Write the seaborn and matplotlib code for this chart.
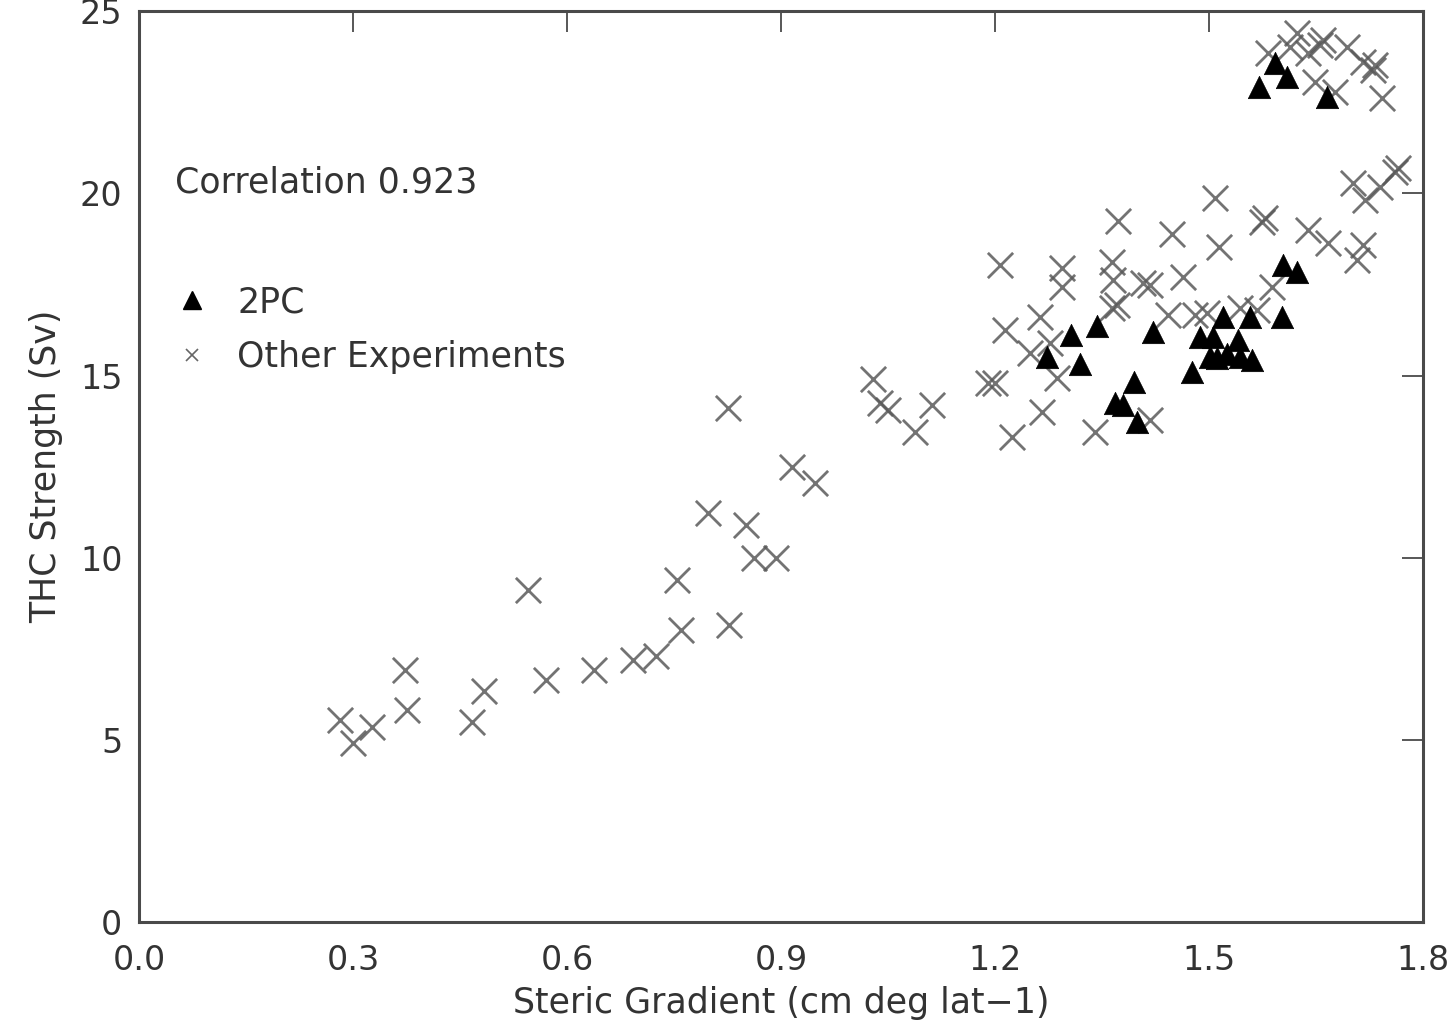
import matplotlib
matplotlib.use("Agg")
import matplotlib.pyplot as plt
from matplotlib.lines import Line2D
import seaborn as sns
import pandas as pd

# 2PC experiments (triangles)
pc_x = [1.273, 1.307, 1.319, 1.343, 1.368, 1.380, 1.395, 1.399, 1.422, 1.476,
        1.487, 1.501, 1.506, 1.511, 1.520, 1.525, 1.541, 1.543, 1.558, 1.560,
        1.602, 1.604, 1.623, 1.570, 1.593, 1.609, 1.666]
pc_y = [15.50, 16.11, 15.31, 16.36, 14.24, 14.19, 14.82, 13.72, 16.19, 15.09,
        16.05, 15.50, 16.05, 15.48, 16.60, 15.60, 15.97, 15.50, 16.60, 15.42,
        16.60, 18.03, 17.84, 22.91, 23.57, 23.19, 22.64]

# other experiments (crosses)
oth_x = [0.282, 0.300, 0.327, 0.373, 0.376, 0.467, 0.484, 0.545, 0.571, 0.638,
         0.693, 0.725, 0.760, 0.754, 0.827, 0.798, 0.826, 0.851, 0.862, 0.893,
         0.915, 0.948, 1.029, 1.039, 1.050, 1.088, 1.112,
         1.190, 1.200, 1.207, 1.214, 1.224, 1.249, 1.263, 1.266, 1.277, 1.287,
         1.294, 1.294, 1.340, 1.364, 1.366, 1.364, 1.371, 1.372, 1.408, 1.417,
         1.417, 1.443, 1.448, 1.464, 1.480, 1.497, 1.508, 1.514, 1.543, 1.567,
         1.574, 1.579, 1.588, 1.639, 1.667, 1.702, 1.708, 1.716, 1.719, 1.740,
         1.761, 1.765,
         1.583, 1.623, 1.614, 1.639, 1.656, 1.660, 1.649, 1.694, 1.716, 1.730,
         1.733, 1.677, 1.743]
oth_y = [5.54, 4.91, 5.35, 6.92, 5.82, 5.49, 6.34, 9.11, 6.64, 6.92,
         7.19, 7.30, 8.01, 9.39, 8.15, 11.22, 14.10, 10.90, 10.00, 10.00,
         12.50, 12.05, 14.90, 14.24, 14.05, 13.45, 14.20,
         14.79, 14.79, 18.03, 16.25, 13.31, 15.61, 16.60, 14.00, 15.89, 14.93,
         17.95, 17.43, 13.45, 18.11, 17.62, 16.85, 16.93, 19.25, 17.54, 17.48,
         13.78, 16.66, 18.90, 17.70, 16.66, 16.71, 19.87, 18.52, 16.85, 16.79,
         19.21, 19.32, 17.43, 18.99, 18.63, 20.28, 18.17, 18.58, 19.81, 20.17,
         20.58, 20.69,
         23.85, 24.40, 24.01, 23.85, 24.07, 24.20, 23.05, 24.01, 23.60, 23.38,
         23.52, 22.78, 22.61]

x_ticks = [0.0, 0.3, 0.6, 0.9, 1.2, 1.5, 1.8]
y_ticks = [0, 5, 10, 15, 20, 25]

df_pc = pd.DataFrame({"grad": pc_x, "thc": pc_y})
df_oth = pd.DataFrame({"grad": oth_x, "thc": oth_y})

sns.set_style("white")
plt.rcParams['font.family'] = ['DejaVu Sans']

fig = plt.figure(figsize=(14.56, 10.29), dpi=100)
ax = fig.add_axes([0.0955, 0.104, 0.8818, 0.885])

ink = '#4a4a4a'
txt = '#333333'
sns.scatterplot(data=df_oth, x="grad", y="thc", marker='x', s=330, color='#5a5a5a',
                linewidth=2.0, alpha=0.85, ax=ax, legend=False)
sns.scatterplot(data=df_pc, x="grad", y="thc", marker='^', s=260, color='black',
                edgecolor='black', linewidth=0.5, ax=ax, legend=False)

ax.set_xlim(0, 1.8)
ax.set_ylim(0, 25)
ax.set_xticks(x_ticks)
ax.set_xticklabels(["%.1f" % v for v in x_ticks])
ax.set_yticks(y_ticks)
ax.set_yticklabels([str(v) for v in y_ticks])
ax.tick_params(direction='in', length=15, width=1.3, color=ink, labelsize=24,
               labelcolor=txt, top=True, right=True)
ax.tick_params(axis='x', pad=16)
ax.tick_params(axis='y', pad=12)

for sp in ax.spines.values():
    sp.set_color(ink)
    sp.set_linewidth(2.2)

ax.set_xlabel("Steric Gradient (cm deg lat\u22121)", fontsize=25, color=txt, labelpad=6)
ax.set_ylabel("THC Strength (Sv)", fontsize=25, color=txt, labelpad=12)

ax.text(0.05, 20.3, "Correlation 0.923", fontsize=25, color=txt, va='center', ha='left')

handles = [
    Line2D([], [], linestyle='none', marker='^', markersize=13, color='black'),
    Line2D([], [], linestyle='none', marker='x', markersize=9, color='#666666',
           markeredgewidth=1.2),
]
ax.legend(handles, ["2PC", "Other Experiments"], loc='upper left',
          bbox_to_anchor=(0.028, 0.699), frameon=False, fontsize=25,
          labelcolor=txt, handlelength=1.0, handletextpad=0.8, labelspacing=0.6,
          borderpad=0, borderaxespad=0)

fig.savefig("out.png", dpi=100)
